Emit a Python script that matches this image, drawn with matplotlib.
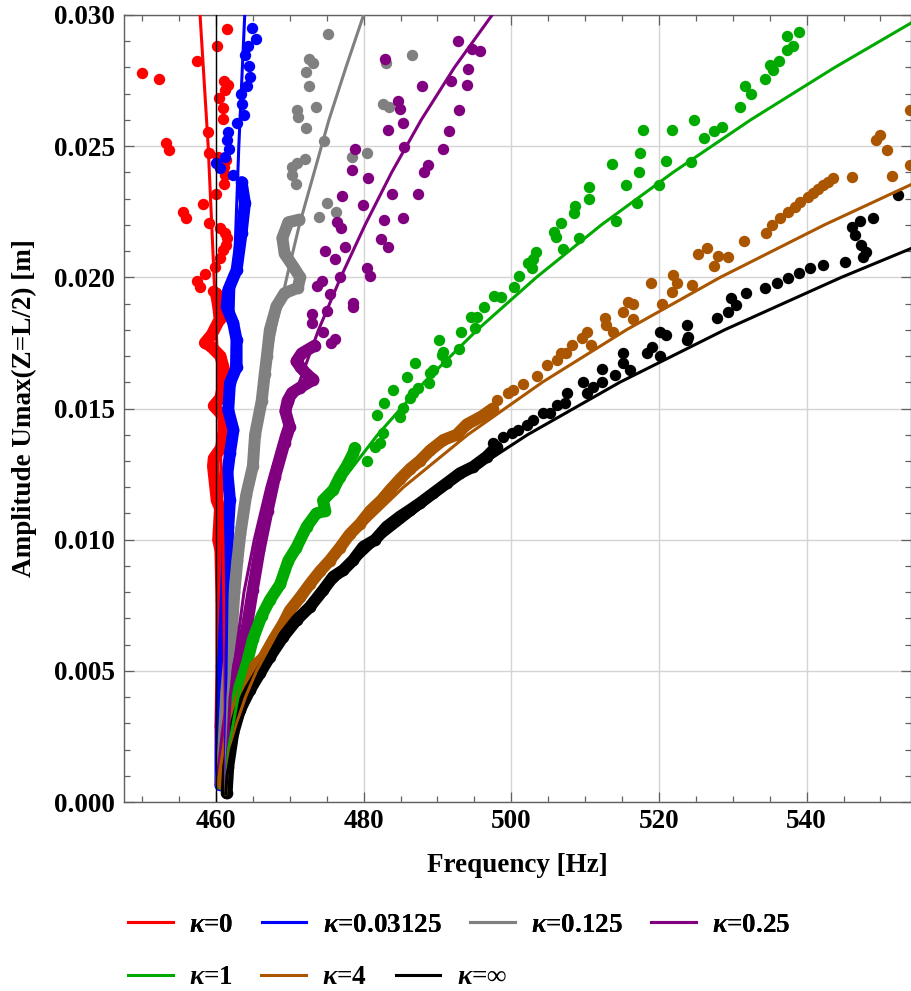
import matplotlib
matplotlib.use('Agg')
import matplotlib.pyplot as plt
import numpy as np

plt.rcParams['font.family'] = ['Liberation Serif', 'DejaVu Serif']
plt.rcParams['font.weight'] = 'bold'
plt.rcParams['mathtext.fontset'] = 'custom'
plt.rcParams['mathtext.rm'] = 'Liberation Serif:bold'
plt.rcParams['mathtext.it'] = 'Liberation Serif:italic:bold'

# ---- data: (frequency [Hz], amplitude [m]) ----
ref_freq = 460.0
legend_labels = [r'$\kappa$=0', r'$\kappa$=0.03125', r'$\kappa$=0.125', r'$\kappa$=0.25',
                 r'$\kappa$=1', r'$\kappa$=4', r'$\kappa$=$\infty$']
colors = ['#ff0000', '#0000ff', '#808080', '#800080', '#00aa00', '#aa5500', '#000000']

# dense measured bands (low amplitude)
red_band = [(460.7, 0.0007), (460.6, 0.0029), (460.75, 0.0052), (460.75, 0.0077), (460.6, 0.0096),
            (460.3, 0.0100), (460.55, 0.0112), (460.1, 0.0115), (459.6, 0.0128), (459.7, 0.0131),
            (460.7, 0.0135), (461.0, 0.0141), (461.0, 0.0147), (459.7, 0.0151), (460.6, 0.0154),
            (461.2, 0.0162), (461.0, 0.0166), (460.6, 0.0170), (459.2, 0.0174), (458.5, 0.0175),
            (459.4, 0.0178), (460.5, 0.0184), (460.3, 0.0189), (460.0, 0.0194)]
blue_band = [(460.6, 0.00065), (460.64, 0.00198), (460.77, 0.00389), (460.99, 0.00541), (461.22, 0.00705),
             (461.45, 0.00858), (461.56, 0.00949), (461.67, 0.01048), (461.9, 0.01151), (461.56, 0.01254),
             (461.9, 0.0133), (462.37, 0.01418), (461.67, 0.01494), (461.9, 0.01597), (462.8, 0.01658),
             (462.8, 0.01761), (462.34, 0.01826), (461.45, 0.01887), (461.67, 0.01952), (462.8, 0.02028),
             (463.48, 0.02169), (463.93, 0.02283), (463.48, 0.02363)]
gray_band = [(460.7, 0.0007), (461.0, 0.002), (461.4, 0.0042), (461.9, 0.0058), (462.2, 0.0067),
             (462.5, 0.0080), (462.9, 0.0092), (463.3, 0.0102), (464.1, 0.0117), (465.0, 0.0128),
             (465.3, 0.0140), (466.2, 0.0153), (466.6, 0.0163), (466.9, 0.0170), (467.3, 0.0180),
             (468.2, 0.0189), (469.3, 0.0194), (471.1, 0.0196), (471.4, 0.0200), (470.5, 0.0204),
             (469.3, 0.0209), (469.0, 0.0215), (469.8, 0.0221), (471.3, 0.0222)]
purple_band = [(460.7, 0.0007), (461.0, 0.0014), (461.45, 0.0026), (462.1, 0.0039), (463.0, 0.0052),
               (464.2, 0.0067), (465.0, 0.0081), (465.9, 0.0096), (467.0, 0.0111), (468.0, 0.0124),
               (469.3, 0.0137), (470.0, 0.0143), (469.4, 0.0149), (469.7, 0.0153), (470.3, 0.0156),
               (471.4, 0.0158), (473.2, 0.0161), (472.3, 0.0163), (471.4, 0.0166), (470.9, 0.0168),
               (471.6, 0.0171), (473.4, 0.0174)]
green_band = [(460.8, 0.0007), (461.2, 0.0011), (461.7, 0.0021), (462.3, 0.0034), (463.2, 0.0044),
              (464.2, 0.0053), (465.0, 0.0062), (466.2, 0.0071), (467.3, 0.0077), (468.7, 0.0083),
              (469.8, 0.0092), (470.9, 0.0097), (472.3, 0.0105), (473.6, 0.0110), (474.8, 0.0111),
              (474.5, 0.0115), (475.9, 0.0119), (476.8, 0.0124), (477.7, 0.0128), (478.6, 0.0133),
              (478.8, 0.0135)]
brown_band = [(460.9, 0.0007), (461.2, 0.0013), (461.7, 0.0022), (462.3, 0.0031), (463.25, 0.0039),
              (464.2, 0.0045), (465.3, 0.0052), (466.4, 0.0055), (467.8, 0.0062), (469.1, 0.0068),
              (470.0, 0.0073), (471.4, 0.0078), (472.7, 0.0083), (474.1, 0.0088), (475.4, 0.0092),
              (476.8, 0.0097), (478.1, 0.0102), (479.5, 0.0106), (480.9, 0.0111), (482.4, 0.0115),
              (483.6, 0.0119), (484.9, 0.0123), (486.3, 0.0127), (487.6, 0.0130), (489.0, 0.0134),
              (490.8, 0.0138), (492.6, 0.0140), (494.0, 0.0144), (496.0, 0.0147), (497.5, 0.0150)]
black_band = [(461.45, 0.00033), (461.67, 0.00135), (462.34, 0.00262), (463.25, 0.00351), (464.6, 0.00427),
              (465.96, 0.00491), (467.31, 0.00554), (469.11, 0.0063), (470.93, 0.00694), (472.73, 0.00744),
              (474.53, 0.00808), (475.88, 0.00859), (477.24, 0.00884), (478.59, 0.00922), (479.95, 0.00973),
              (481.53, 0.00999), (483.11, 0.01049), (484.92, 0.01088), (486.27, 0.01113), (487.62, 0.01139),
              (489.43, 0.01177), (491.24, 0.01215), (493.04, 0.01253), (494.84, 0.01278), (496.66, 0.01316),
              (498.0, 0.01354)]

# separate measured points (high amplitude)
red_pts = [(461.45, 0.02945), (460.18, 0.02882), (457.47, 0.02825), (449.94, 0.0278), (452.28, 0.02756),
           (461.1, 0.02748), (461.67, 0.02733), (461.2, 0.02714), (460.45, 0.02682), (460.9, 0.02644),
           (460.99, 0.02602), (458.88, 0.02555), (453.19, 0.02511), (453.68, 0.02485), (459.05, 0.02473),
           (460.31, 0.0246), (461.35, 0.02447), (461.12, 0.02422), (461.22, 0.0239), (461.08, 0.02356),
           (460.0, 0.02317), (458.28, 0.0228), (455.57, 0.0225), (455.94, 0.02225), (459.05, 0.02208),
           (460.54, 0.02187), (461.22, 0.02168), (461.45, 0.02149), (461.35, 0.02123), (460.99, 0.02104),
           (460.54, 0.02073), (459.86, 0.0204), (458.51, 0.02013), (457.39, 0.01987), (457.83, 0.01964),
           (459.55, 0.01949), (460.31, 0.01933)]
blue_pts = [(464.83, 0.02949), (465.37, 0.02909), (464.38, 0.0288), (463.93, 0.02848), (464.47, 0.02806),
            (464.6, 0.02765), (464.15, 0.0273), (463.34, 0.02697), (463.48, 0.02661), (463.79, 0.02619),
            (462.88, 0.02587), (461.58, 0.02555), (461.45, 0.02524), (461.76, 0.02488), (461.22, 0.0246),
            (459.96, 0.02435), (460.54, 0.02416), (462.34, 0.0239)]
gray_pts = [(475.21, 0.02928), (472.63, 0.02831), (473.18, 0.02816), (472.19, 0.02784), (472.63, 0.02729),
            (473.54, 0.02648), (471.01, 0.02638), (471.14, 0.0261), (472.19, 0.0257), (474.62, 0.02521),
            (472.05, 0.0245), (471.01, 0.02435), (470.25, 0.02422), (470.25, 0.0239), (470.83, 0.02356),
            (474.99, 0.02282), (476.25, 0.0225), (473.91, 0.02231), (471.28, 0.02221), (483.02, 0.02816),
            (486.5, 0.02848), (482.57, 0.02661), (483.47, 0.02648), (480.4, 0.02475), (478.37, 0.0246)]
purple_pts = [(492.81, 0.02902), (494.62, 0.02869), (495.75, 0.02864), (494.08, 0.02793), (482.93, 0.02832),
              (487.85, 0.0273), (491.82, 0.02748), (493.95, 0.02733), (484.6, 0.02673), (484.92, 0.0264),
              (485.28, 0.02587), (483.33, 0.02562), (492.95, 0.02638), (491.6, 0.02559), (485.5, 0.02498),
              (490.7, 0.02488), (478.82, 0.02488), (488.75, 0.0243), (488.17, 0.02403), (478.37, 0.02409),
              (480.62, 0.02378), (483.79, 0.02318), (487.39, 0.02318), (477.1, 0.02311), (479.95, 0.02276),
              (476.43, 0.02212), (476.88, 0.02187), (482.75, 0.02219), (485.37, 0.02225), (482.3, 0.02145),
              (483.33, 0.02114), (477.47, 0.02114), (474.76, 0.021), (476.11, 0.02069), (480.4, 0.02034),
              (480.93, 0.02005), (476.79, 0.02), (474.31, 0.01986), (473.63, 0.01968), (475.44, 0.01936),
              (478.6, 0.01903), (478.5, 0.01886), (474.99, 0.01872), (472.96, 0.0186), (472.96, 0.01827),
              (474.53, 0.01793), (476.11, 0.01764), (475.53, 0.01751)]
green_pts = [(480.4, 0.0130), (481.5, 0.01354), (482.2, 0.01367), (482.65, 0.01405), (484.9, 0.01469),
             (481.8, 0.01475), (482.75, 0.01522), (485.4, 0.01501), (486.3, 0.01539), (486.7, 0.01558),
             (484.0, 0.0157), (487.4, 0.01577), (485.9, 0.01619), (488.9, 0.01596), (489.0, 0.01634),
             (489.4, 0.01647), (487.0, 0.01672), (491.2, 0.01678), (490.6, 0.01704), (490.8, 0.01716),
             (490.2, 0.01761), (492.9, 0.01726), (493.2, 0.0179), (495.1, 0.01806), (494.5, 0.01848),
             (495.3, 0.0185), (496.3, 0.01888), (497.6, 0.0193), (498.55, 0.01926), (500.3, 0.01962),
             (501.0, 0.02005), (502.75, 0.02037), (502.3, 0.02056), (503.0, 0.02069), (503.3, 0.02098),
             (506.95, 0.02107), (505.8, 0.02174), (506.0, 0.02153), (506.8, 0.02208), (509.2, 0.02151),
             (508.5, 0.02244), (508.6, 0.02273), (510.5, 0.02297), (510.55, 0.02343), (514.2, 0.02216),
             (517.0, 0.02282), (515.6, 0.02352), (520.0, 0.02352), (517.3, 0.024), (513.6, 0.02432),
             (517.4, 0.02475), (520.9, 0.02443), (524.3, 0.02441), (517.9, 0.02562), (521.7, 0.02562),
             (524.7, 0.026), (526.1, 0.02533), (527.4, 0.02558), (528.6, 0.02572), (531.0, 0.02648),
             (531.6, 0.02729), (532.5, 0.02697), (534.3, 0.02755), (535.0, 0.02809), (535.4, 0.0279),
             (536.3, 0.02825), (537.4, 0.02867), (538.2, 0.0288), (537.3, 0.0292), (539.0, 0.02934)]
brown_pts = [(498.01, 0.01532), (499.58, 0.01558), (500.26, 0.0157), (501.61, 0.01592), (503.42, 0.01624),
             (504.78, 0.01666), (506.13, 0.01685), (506.8, 0.01713), (507.39, 0.0171), (508.17, 0.01742),
             (510.78, 0.01742), (509.52, 0.01768), (510.2, 0.0179), (513.8, 0.0179), (512.81, 0.01818),
             (512.67, 0.01844), (516.5, 0.0184), (515.07, 0.01867), (516.5, 0.01898), (515.83, 0.01907),
             (520.35, 0.01898), (518.86, 0.0198), (521.7, 0.01945), (522.38, 0.01977), (521.92, 0.02009),
             (524.5, 0.01971), (525.3, 0.02089), (526.44, 0.02111), (527.5, 0.02043), (528.05, 0.02081),
             (529.4, 0.02079), (531.54, 0.0214), (534.47, 0.02168), (535.25, 0.022), (536.37, 0.02225),
             (537.5, 0.0225), (538.4, 0.02269), (539.08, 0.02288), (540.2, 0.02307), (540.9, 0.02323),
             (541.56, 0.02336), (542.24, 0.02352), (542.9, 0.02365), (543.6, 0.02378), (546.2, 0.02384),
             (551.62, 0.02386), (550.9, 0.02486), (549.37, 0.02524), (549.91, 0.02543), (553.98, 0.02428),
             (553.98, 0.02638)]
black_pts = [(497.55, 0.01367), (498.9, 0.01392), (500.04, 0.01405), (500.94, 0.01418), (502.07, 0.01437),
             (502.97, 0.01456), (504.32, 0.01482), (505.23, 0.01482), (506.13, 0.01513), (507.49, 0.01558),
             (507.26, 0.0152), (509.74, 0.01602), (510.2, 0.01558), (511.09, 0.01583), (512.23, 0.01649),
             (512.23, 0.01602), (514.03, 0.01628), (515.16, 0.01672), (515.16, 0.0171), (516.06, 0.01647),
             (518.32, 0.0171), (518.99, 0.01736), (520.12, 0.017), (520.12, 0.01793), (521.02, 0.0178),
             (523.73, 0.01818), (523.95, 0.01774), (523.73, 0.01761), (527.8, 0.01844), (529.37, 0.01869),
             (529.82, 0.0192), (530.5, 0.01895), (531.85, 0.01939), (534.34, 0.01958), (535.92, 0.0198),
             (537.5, 0.01999), (538.99, 0.02015), (540.43, 0.02034), (542.24, 0.02047), (545.17, 0.0206),
             (547.65, 0.02079), (548.1, 0.02098), (547.42, 0.02123), (546.53, 0.02161), (546.08, 0.02193),
             (547.2, 0.02216), (549.0, 0.02225), (552.39, 0.02314)]

# model curves
red_fit = [(461.3, 0.0003), (461.21, 0.005), (460.94, 0.010), (460.48, 0.015), (459.75, 0.020),
           (458.95, 0.025), (457.85, 0.030)]
blue_fit = [(461.3, 0.0003), (461.37, 0.005), (461.59, 0.010), (461.95, 0.015), (462.46, 0.020),
            (463.1, 0.025), (463.9, 0.030)]
gray_fit = [(461.3, 0.0003), (461.63, 0.004), (462.63, 0.008), (463.4, 0.010), (464.3, 0.012),
            (465.4, 0.014), (466.6, 0.016), (468.0, 0.018), (469.6, 0.020), (471.3, 0.022),
            (473.3, 0.024), (475.3, 0.026), (477.6, 0.028), (480.0, 0.030)]
purple_fit = [(461.3, 0.0003), (461.92, 0.004), (463.8, 0.008), (465.2, 0.010), (466.9, 0.012),
              (468.9, 0.014), (471.3, 0.016), (473.9, 0.018), (476.9, 0.020), (480.2, 0.022),
              (483.8, 0.024), (487.8, 0.026), (492.3, 0.028), (497.4, 0.030)]
green_fit = [(461.31, 0.0003), (461.7, 0.002), (463.0, 0.004), (465.1, 0.006), (468.0, 0.008),
             (471.8, 0.010), (476.4, 0.012), (481.9, 0.014), (488.2, 0.016), (495.4, 0.018),
             (503.4, 0.020), (512.2, 0.022), (521.9, 0.024), (532.4, 0.026), (543.8, 0.028), (556.0, 0.030)]
brown_fit = [(461.32, 0.0003), (461.47, 0.001), (461.97, 0.002), (462.8, 0.003), (464.0, 0.004),
             (465.5, 0.005), (468.4, 0.0065), (472.0, 0.008), (478.0, 0.010), (485.4, 0.012),
             (494.1, 0.014), (504.2, 0.016), (515.6, 0.018), (528.3, 0.020), (542.4, 0.022), (555.4, 0.0237)]
black_fit = [(461.32, 0.0003), (461.5, 0.001), (462.1, 0.002), (463.2, 0.003), (464.6, 0.004),
             (466.5, 0.005), (470.1, 0.0065), (474.6, 0.008), (482.2, 0.010), (491.3, 0.012),
             (502.2, 0.014), (514.7, 0.016), (528.9, 0.018), (544.7, 0.020), (555.0, 0.0212)]

bands = [red_band, blue_band, gray_band, purple_band, green_band, brown_band, black_band]
points = [red_pts, blue_pts, gray_pts, purple_pts, green_pts, brown_pts, black_pts]
fits = [red_fit, blue_fit, gray_fit, purple_fit, green_fit, brown_fit, black_fit]

FS = 19.5
fig = plt.figure(figsize=(9.12, 9.91), dpi=100)
ax = fig.add_axes([124 / 912, 1 - 802 / 991, 787.5 / 912, 787 / 991])

# measured data: dense part as a thick band of dots, rest as single dots
for band, pts, c in zip(bands, points, colors):
    bf, ba = np.array(band).T
    ax.plot(bf, ba, '-o', color=c, lw=8.6, ms=8.4, mew=0, solid_capstyle='round',
            solid_joinstyle='round', zorder=2)
    pf, pa = np.array(pts).T
    ax.plot(pf, pa, 'o', color=c, ms=8.2, mew=0, zorder=2)

# model curves on top
handles = []
for fit, c, lab in zip(fits, colors, legend_labels):
    ff, fa = np.array(fit).T
    h, = ax.plot(ff, fa, '-', color=c, lw=2.2, zorder=3, label=lab)
    handles.append(h)

ax.axvline(ref_freq, color='black', lw=1.0, zorder=4)

ax.set_xlim(447.55, 554.2)
ax.set_ylim(0, 0.030)
ax.set_xticks([460, 480, 500, 520, 540])
ax.set_xticks(np.arange(450, 555, 5), minor=True)
ax.set_yticks(np.arange(0, 0.0301, 0.005))
ax.set_yticks(np.arange(0, 0.0301, 0.001), minor=True)
ax.yaxis.set_major_formatter(matplotlib.ticker.FormatStrFormatter('%.3f'))
ax.tick_params(which='both', direction='in', top=True, right=True,
               color='#606060', width=0.9, labelsize=FS)
ax.tick_params(which='major', length=7)
ax.tick_params(which='minor', length=4)
ax.tick_params(axis='x', pad=5)
ax.tick_params(axis='y', pad=6.5)
ax.grid(True, which='major', color='#d4d4d4', lw=1.0, zorder=0)
ax.set_axisbelow(True)
for s in ax.spines.values():
    s.set_color('#606060')
    s.set_linewidth(1.0)

ax.set_xlabel('Frequency [Hz]', fontsize=FS, fontweight='bold', labelpad=14)
ax.set_ylabel('Amplitude Umax(Z=L/2) [m]', fontsize=FS, fontweight='bold', labelpad=12)

leg_kw = dict(frameon=False, fontsize=FS, handlelength=1.65, handletextpad=0.6,
              columnspacing=1.05, borderpad=0, borderaxespad=0, loc='center left')
leg1 = fig.legend(handles=handles[:4], ncol=4, bbox_to_anchor=(128 / 912, 1 - 925 / 991), **leg_kw)
fig.add_artist(leg1)
fig.legend(handles=handles[4:], ncol=3, bbox_to_anchor=(128 / 912, 1 - 978 / 991), **leg_kw)

fig.savefig('out.png', dpi=100)
